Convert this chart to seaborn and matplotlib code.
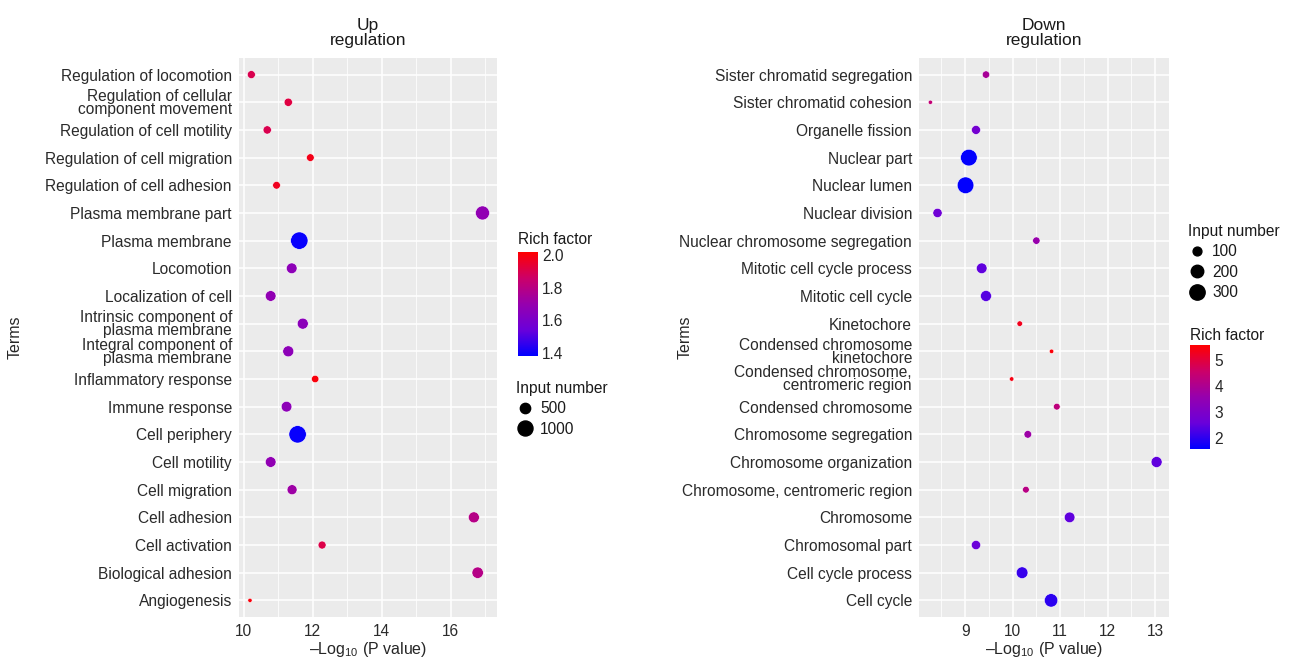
import matplotlib
matplotlib.use("Agg")
import matplotlib.pyplot as plt
import seaborn as sns
import pandas as pd
from matplotlib.colors import LinearSegmentedColormap, Normalize
from matplotlib.cm import ScalarMappable
from matplotlib.lines import Line2D

# ---- up regulation data (top to bottom as shown) ----
up_terms = ["Regulation of locomotion", "Regulation of cellular\ncomponent movement",
            "Regulation of cell motility", "Regulation of cell migration",
            "Regulation of cell adhesion", "Plasma membrane part", "Plasma membrane",
            "Locomotion", "Localization of cell", "Intrinsic component of\nplasma membrane",
            "Integral component of\nplasma membrane", "Inflammatory response",
            "Immune response", "Cell periphery", "Cell motility", "Cell migration",
            "Cell adhesion", "Cell activation", "Biological adhesion", "Angiogenesis"]
up_logp = [10.22, 11.29, 10.68, 11.93, 10.95, 16.92, 11.61, 11.39, 10.78, 11.71,
           11.29, 12.07, 11.24, 11.56, 10.78, 11.40, 16.67, 12.27, 16.78, 10.18]
up_rich = [1.90, 1.92, 1.90, 1.98, 1.97, 1.68, 1.39, 1.67, 1.68, 1.66,
           1.67, 2.00, 1.67, 1.39, 1.68, 1.72, 1.79, 1.91, 1.79, 2.00]
up_count = [320, 340, 340, 300, 300, 880, 1320, 530, 530, 560,
            560, 280, 530, 1320, 530, 470, 560, 320, 600, 130]

# ---- down regulation data ----
down_terms = ["Sister chromatid segregation", "Sister chromatid cohesion", "Organelle fission",
              "Nuclear part", "Nuclear lumen", "Nuclear division",
              "Nuclear chromosome segregation", "Mitotic cell cycle process",
              "Mitotic cell cycle", "Kinetochore", "Condensed chromosome\nkinetochore",
              "Condensed chromosome,\ncentromeric region", "Condensed chromosome",
              "Chromosome segregation", "Chromosome organization",
              "Chromosome, centromeric region", "Chromosome", "Chromosomal part",
              "Cell cycle process", "Cell cycle"]
down_logp = [9.44, 8.27, 9.23, 9.08, 9.01, 8.42, 10.50, 9.35, 9.44, 10.15,
             10.82, 9.98, 10.93, 10.32, 13.03, 10.28, 11.20, 9.23, 10.20, 10.81]
down_rich = [3.9, 4.4, 2.8, 1.6, 1.6, 2.7, 3.6, 2.5, 2.4, 5.3,
             5.5, 5.4, 4.3, 3.7, 2.5, 4.2, 2.5, 2.6, 2.1, 2.0]
down_count = [70, 24, 104, 355, 355, 110, 70, 145, 155, 40,
              26, 26, 58, 75, 155, 58, 145, 110, 175, 230]

sns.set_theme(style="darkgrid")
plt.rcParams["font.family"] = ["Liberation Sans", "DejaVu Sans"]
plt.rcParams["mathtext.fontset"] = "custom"
plt.rcParams["mathtext.rm"] = "Liberation Sans"
plt.rcParams["axes.facecolor"] = "#EBEBEB"
plt.rcParams["text.color"] = "#1a1a1a"

# blue -> purple -> red, like the ggplot gradient
rich_cmap = LinearSegmentedColormap.from_list(
    "rich", ["#0000FF", "#6A00DA", "#9600AE", "#CC0068", "#FF0000"])

fig = plt.figure(figsize=(13, 6.65), dpi=100)
ax_up = fig.add_axes([0.1838, 0.0722, 0.1985, 0.8406])
ax_dn = fig.add_axes([0.7069, 0.0722, 0.1923, 0.8406])


def draw_panel(ax, terms, logp, rich, count, hue_norm, size_norm, sizes,
               xlim, major, minor, title, ylab_x):
    df = pd.DataFrame({"term": terms, "logp": logp, "rich": rich, "count": count})
    sns.scatterplot(data=df, x="logp", y="term", hue="rich", size="count",
                    palette=rich_cmap, hue_norm=hue_norm, size_norm=size_norm,
                    sizes=sizes, edgecolor="white", linewidth=0.4, legend=False, ax=ax)
    ax.set_ylim(len(terms) - 0.4, -0.6)
    ax.set_xlim(*xlim)
    ax.set_xticks(major)
    ax.set_xticks(minor, minor=True)
    ax.grid(which="major", color="white", linewidth=1.1)
    ax.grid(which="minor", axis="x", color="white", linewidth=0.55)
    ax.tick_params(which="major", length=3, width=0.8, color="#333333",
                   labelsize=11.2, labelcolor="#2a2a2a", pad=2)
    ax.tick_params(which="minor", length=0)
    for lbl in ax.get_yticklabels():
        lbl.set_linespacing(0.82)
    for s in ax.spines.values():
        s.set_visible(False)
    ax.set_title(title, fontsize=12.5, pad=9, linespacing=1.05)
    ax.set_xlabel(r"–Log$_\mathregular{10}$ (P value)", fontsize=11.5, labelpad=1)
    ax.set_ylabel("Terms", fontsize=11.5)
    ax.yaxis.set_label_coords(ylab_x, 0.5)


up_hue = (1.38, 2.02)
up_snorm = (100, 1350)
up_sizes = (6, 160)
dn_hue = (1.58, 5.58)
dn_snorm = (15, 370)
dn_sizes = (6, 150)

draw_panel(ax_up, up_terms, up_logp, up_rich, up_count, up_hue, up_snorm, up_sizes,
           (9.86, 17.34), [10, 12, 14, 16], [11, 13, 15, 17], "Up\nregulation", -0.84)
draw_panel(ax_dn, down_terms, down_logp, down_rich, down_count, dn_hue, dn_snorm, dn_sizes,
           (8.03, 13.29), [9, 10, 11, 12, 13], [8.5, 9.5, 10.5, 11.5, 12.5],
           "Down\nregulation", -0.905)


def size_of(v, snorm, sizes):
    return sizes[0] + (v - snorm[0]) / (snorm[1] - snorm[0]) * (sizes[1] - sizes[0])


def add_colorbar(rect, norm, ticks, title_xy):
    cax = fig.add_axes(rect)
    cb = fig.colorbar(ScalarMappable(norm=Normalize(*norm), cmap=rich_cmap), cax=cax)
    cb.outline.set_visible(False)
    cb.set_ticks(ticks)
    cax.tick_params(length=3, width=0.8, color="white", direction="in",
                    labelsize=11.2, pad=3)
    fig.text(title_xy[0], title_xy[1], "Rich factor", fontsize=11.2, va="center", ha="left")


def add_size_legend(values, snorm, sizes, anchor):
    handles = [Line2D([], [], linestyle="", marker="o", color="black",
                      markersize=size_of(v, snorm, sizes) ** 0.5) for v in values]
    fig.legend(handles, [str(v) for v in values], title="Input number",
               loc="upper left", bbox_to_anchor=anchor, frameon=False,
               fontsize=11.2, title_fontsize=11.2, handletextpad=0.35,
               labelspacing=0.35, borderpad=0, borderaxespad=0,
               handlelength=1.2, alignment="left")


add_colorbar([0.3985, 0.4647, 0.0154, 0.1564], up_hue, [1.4, 1.6, 1.8, 2.0],
             (518 / 1300, 1 - 239 / 665))
add_size_legend([500, 1000], up_snorm, up_sizes, (516 / 1300, 1 - 381 / 665))

add_size_legend([100, 200, 300], dn_snorm, dn_sizes, (1188 / 1300, 1 - 224 / 665))
add_colorbar([0.9154, 0.3248, 0.0154, 0.1564], dn_hue, [2, 3, 4, 5],
             (1190 / 1300, 1 - 336 / 665))

fig.savefig("out.png", dpi=100)
